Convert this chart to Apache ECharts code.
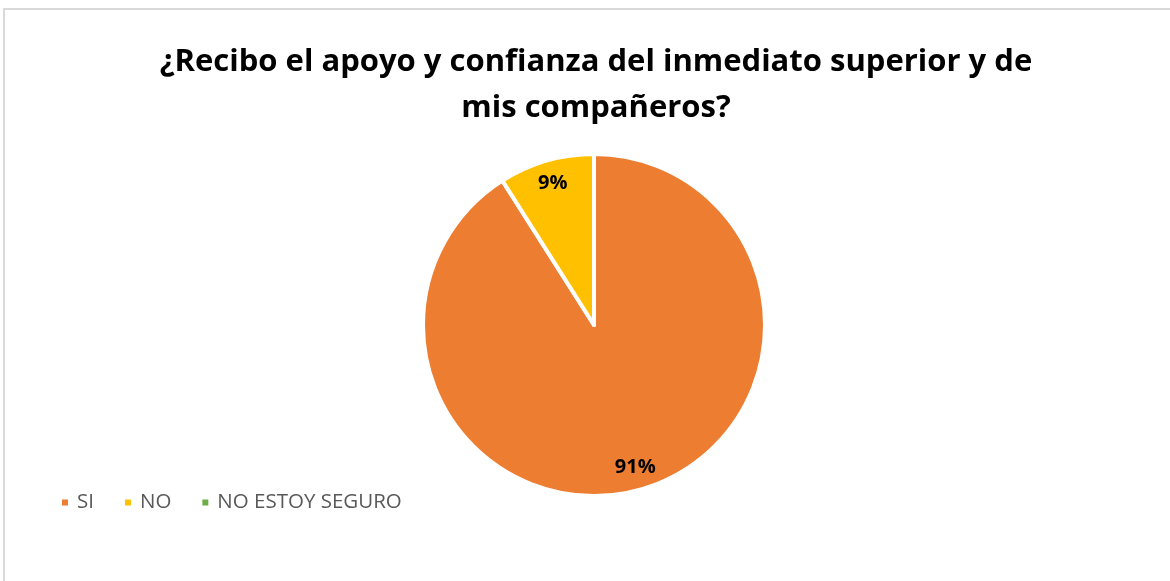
<!DOCTYPE html>
<html>
<head>
<meta charset="utf-8">
<script src="https://cdn.jsdelivr.net/npm/echarts@6/dist/echarts.min.js"></script>
<style>
html,body{margin:0;padding:0;background:#fff;}
#c{width:1170px;height:581px;}
</style>
</head>
<body>
<div id="c"></div>
<script>
const categories = ['SI', 'NO', 'NO ESTOY SEGURO'];
const values = [91, 9, 0];
const colors = ['#ED7D31', '#FFC000', '#70AD47'];
const titleText = '¿Recibo el apoyo y confianza del inmediato superior y de\nmis compañeros?';

const chart = echarts.init(document.getElementById('c'));
const mainData = categories.map((n, i) => ({ name: n, value: values[i], itemStyle: { color: colors[i] } }));
const labelData = categories.map((n, i) => ({ name: n, value: values[i] }));

chart.setOption({
  animation: false,
  graphic: [{
    type: 'rect',
    shape: { x: 4, y: 9, width: 1190, height: 590 },
    style: { fill: 'none', stroke: '#D9D9D9', lineWidth: 2 },
    silent: true
  }],
  title: {
    text: titleText,
    left: 591,
    top: 34,
    textAlign: 'center',
    textStyle: { fontFamily: 'Open Sans', fontWeight: 'bold', fontSize: 31, color: '#000', lineHeight: 46 }
  },
  legend: {
    data: categories,
    left: 55,
    top: 487,
    orient: 'horizontal',
    icon: 'rect',
    itemWidth: 8,
    itemHeight: 8,
    itemGap: 29,
    textStyle: { fontFamily: 'Open Sans', fontSize: 20.5, color: '#595959', padding: [0, 0, 0, 3] }
  },
  series: [{
    type: 'pie',
    center: [594, 325],
    radius: [0, 171],
    startAngle: 90,
    clockwise: true,
    data: mainData,
    label: { show: false },
    labelLine: { show: false },
    itemStyle: { borderColor: '#fff', borderWidth: 4 },
    emphasis: { disabled: true }
  }, {
    type: 'pie',
    center: [594, 325],
    radius: [121, 169],
    startAngle: 90,
    clockwise: true,
    silent: true,
    data: labelData,
    itemStyle: { color: 'rgba(0,0,0,0)' },
    label: {
      show: true,
      position: 'inside',
      formatter: p => p.value ? p.value + '%' : '',
      fontFamily: 'Open Sans',
      fontWeight: 'bold',
      fontSize: 20,
      color: '#000'
    },
    labelLine: { show: false },
    emphasis: { disabled: true }
  }]
});
</script>
</body>
</html>
